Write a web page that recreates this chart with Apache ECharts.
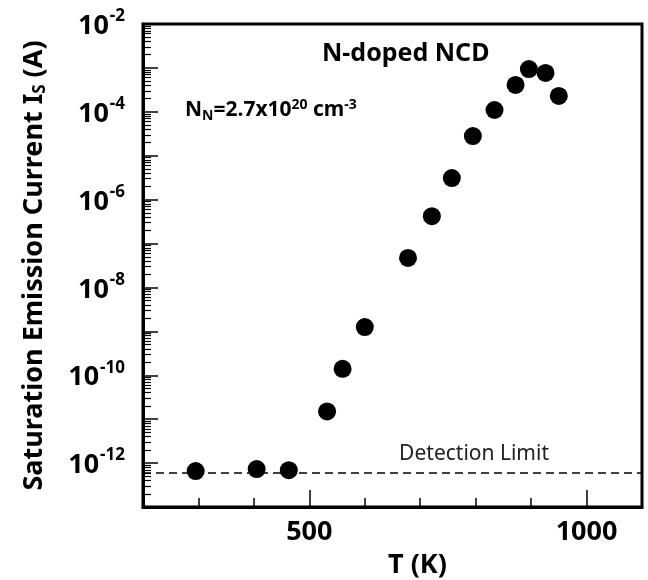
<!DOCTYPE html>
<html><head><meta charset="utf-8">
<script src="https://cdn.jsdelivr.net/npm/echarts@6/dist/echarts.min.js"></script>
<style>html,body{margin:0;padding:0;background:#fff}#c{width:648px;height:580px}</style>
</head><body><div id="c"></div>
<script>
// ---- data ----
const temperatureK = [295, 405, 463, 532, 560, 600, 678, 721, 757, 795, 834, 872, 896, 926, 950];
const currentA = [6.6e-13, 7.3e-13, 6.9e-13, 1.5e-11, 1.4e-10, 1.25e-9, 4.7e-8, 4.2e-7, 3.1e-6, 2.8e-5, 1.1e-4, 4.1e-4, 9.4e-4, 7.7e-4, 2.3e-4];
const detectionLimitA = 6.2e-13;
const xMinorTicks = [300, 400, 600, 700, 800, 900];
const xMajorTicks = [500, 1000];
const xTickLabels = [500, 1000];
const yLabelExponents = [-12, -10, -8, -6, -4, -2];
const yDecadeExponents = [-13, -12, -11, -10, -9, -8, -7, -6, -5, -4, -3, -2];
const minorMantissas = [2, 3, 4, 5, 6, 7, 8, 9];

const FONT = 'Noto Sans';
const yMinorTicks = [];
yDecadeExponents.slice(0, -1).forEach(e => minorMantissas.forEach(m => yMinorTicks.push(e + Math.log10(m))));

const chart = echarts.init(document.getElementById('c'), null, {renderer: 'canvas'});
const grid = {left: 143, right: 6, top: 24, bottom: 73, outerBoundsMode: 'none', containLabel: false, show: true, borderColor: '#000', borderWidth: 3, backgroundColor: 'transparent'};
const yBase = {type: 'value', min: -13, max: -2, interval: 1, splitLine: {show: false}};
const xBase = {type: 'value', min: 200, max: 1100, interval: 100, splitLine: {show: false}};

chart.setOption({
  animation: false,
  backgroundColor: '#fff',
  title: {text: 'N-doped NCD', left: 317, top: 36, textStyle: {fontFamily: FONT, fontWeight: 'bold', fontSize: 25, color: '#000'}},
  grid: grid,
  xAxis: [
    Object.assign({}, xBase, {
      position: 'bottom',
      axisLine: {show: true, lineStyle: {color: '#000', width: 3}},
      axisTick: {show: true, inside: true, length: 9, customValues: xMinorTicks, lineStyle: {color: '#000', width: 1.5}},
      axisLabel: {show: true, customValues: xTickLabels, margin: 12, formatter: v => String(v), fontFamily: FONT, fontWeight: 'bold', fontSize: 27, color: '#000'},
      name: 'T (K)', nameLocation: 'middle', nameGap: 45,
      nameTextStyle: {fontFamily: FONT, fontWeight: 'bold', fontSize: 27, color: '#000', padding: [0, 0, 0, 50]}
    }),
    Object.assign({}, xBase, {
      position: 'bottom',
      axisLine: {show: false},
      axisTick: {show: true, inside: true, length: 17, customValues: xMajorTicks, lineStyle: {color: '#000', width: 1.5}},
      axisLabel: {show: false}
    })
  ],
  yAxis: [
    Object.assign({}, yBase, {
      position: 'left',
      axisLine: {show: true, lineStyle: {color: '#000', width: 3}},
      axisTick: {show: true, inside: true, length: 15, customValues: yDecadeExponents, lineStyle: {color: '#000', width: 1.5}},
      axisLabel: {
        show: true, customValues: yLabelExponents, margin: 18,
        formatter: v => '{b|10}{s|' + v + '}',
        rich: {
          b: {fontFamily: FONT, fontWeight: 'bold', fontSize: 27, color: '#000', lineHeight: 32, verticalAlign: 'bottom'},
          s: {fontFamily: FONT, fontWeight: 'bold', fontSize: 17, color: '#000', lineHeight: 32, verticalAlign: 'top', padding: [0, 0, 14, 1]}
        }
      },
      name: '{t|Saturation Emission Current I}{u|S}{t| (A)}', nameLocation: 'middle', nameGap: 94,
      nameTextStyle: {
        rich: {
          t: {fontFamily: FONT, fontWeight: 'bold', fontSize: 27, color: '#000'},
          u: {fontFamily: FONT, fontWeight: 'bold', fontSize: 17, color: '#000', padding: [12, 0, 0, 0]}
        }
      }
    }),
    Object.assign({}, yBase, {
      position: 'left',
      axisLine: {show: false},
      axisTick: {show: true, inside: true, length: 8, customValues: yMinorTicks, lineStyle: {color: '#000', width: 1.2}},
      axisLabel: {show: false}
    })
  ],
  graphic: [{
    type: 'text', left: 185, top: 98,
    style: {
      rich: {
        a: {fontFamily: FONT, fontWeight: 'bold', fontSize: 21, fill: '#000'},
        sb: {fontFamily: FONT, fontWeight: 'bold', fontSize: 14, fill: '#000', padding: [11, 0, 0, 0]},
        sp: {fontFamily: FONT, fontWeight: 'bold', fontSize: 14, fill: '#000', padding: [0, 0, 11, 0]}
      },
      text: '{a|N}{sb|N}{a|=2.7x10}{sp|20}{a| cm}{sp|-3}'
    }
  }],
  series: [{
    type: 'scatter', xAxisIndex: 0, yAxisIndex: 0,
    data: temperatureK.map((t, i) => [t, Math.log10(currentA[i])]),
    symbol: 'circle', symbolSize: 18,
    itemStyle: {color: '#000', opacity: 1},
    markLine: {
      silent: true, symbol: 'none',
      lineStyle: {color: '#000', width: 1.5, type: [8, 5], opacity: 1},
      label: {show: true, position: 'insideEndTop', distance: 8, formatter: 'Detection Limit', fontFamily: FONT, fontSize: 21, color: '#222', padding: [0, 85, 0, 0]},
      data: [{yAxis: Math.log10(detectionLimitA)}]
    }
  }]
});
</script>
</body></html>
